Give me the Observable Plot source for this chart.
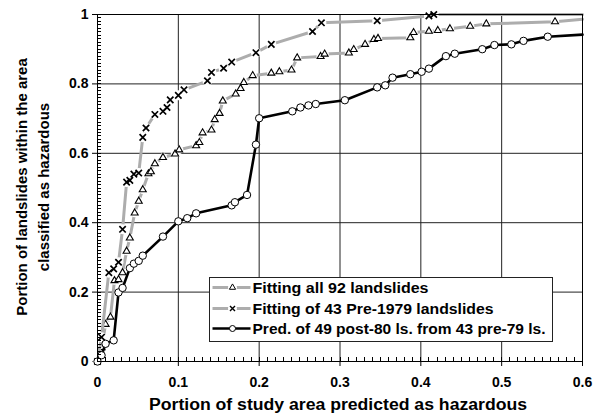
<!DOCTYPE html>
<html><head><meta charset="utf-8">
<script src="https://cdn.jsdelivr.net/npm/d3@7"></script>
<script src="https://cdn.jsdelivr.net/npm/@observablehq/plot@0.6"></script>
<style>
body{margin:0;background:#fff}
#chart{position:relative;width:593px;height:419px}
</style>
</head><body><div id="chart"></div>
<script>
// ---- data ----
const allX = [0,0.005,0.010,0.016,0.021,0.026,0.031,0.036,0.040,0.046,0.051,0.056,0.063,0.066,0.071,0.081,0.096,0.101,0.122,0.126,0.130,0.141,0.145,0.151,0.155,0.171,0.177,0.181,0.192,0.215,0.225,0.240,0.247,0.276,0.281,0.311,0.317,0.331,0.342,0.347,0.387,0.391,0.410,0.421,0.436,0.461,0.481,0.566];
const allY = [0,0.040,0.107,0.128,0.233,0.236,0.256,0.318,0.356,0.428,0.462,0.495,0.541,0.547,0.570,0.588,0.598,0.610,0.622,0.631,0.659,0.667,0.697,0.715,0.751,0.771,0.787,0.804,0.824,0.831,0.835,0.840,0.875,0.879,0.886,0.889,0.899,0.914,0.928,0.931,0.933,0.948,0.952,0.954,0.959,0.966,0.973,0.979];
const allTailY = 0.986;

const preX = [0,0.005,0.014,0.020,0.026,0.031,0.036,0.040,0.045,0.051,0.056,0.060,0.071,0.081,0.086,0.090,0.100,0.107,0.136,0.141,0.156,0.166,0.196,0.215,0.266,0.277,0.346,0.410,0.416];
const preY = [0,0.070,0.256,0.267,0.286,0.381,0.517,0.522,0.540,0.543,0.646,0.673,0.712,0.721,0.732,0.754,0.767,0.783,0.809,0.833,0.845,0.863,0.890,0.914,0.951,0.976,0.982,0.996,1.0];
const preTailY = 1.0;

const predX = [0,0.005,0.010,0.020,0.026,0.031,0.040,0.045,0.051,0.056,0.081,0.100,0.111,0.122,0.166,0.170,0.185,0.196,0.200,0.241,0.251,0.261,0.270,0.306,0.346,0.356,0.365,0.387,0.401,0.410,0.431,0.442,0.476,0.491,0.512,0.527,0.557];
const predY = [0,0.018,0.051,0.061,0.199,0.212,0.269,0.282,0.290,0.305,0.360,0.404,0.413,0.427,0.450,0.459,0.480,0.625,0.701,0.721,0.732,0.738,0.742,0.753,0.790,0.796,0.818,0.828,0.835,0.844,0.880,0.887,0.900,0.912,0.914,0.924,0.936];
const predTailY = 0.942;

const tailX = 0.6;
const xTicks = [0,0.1,0.2,0.3,0.4,0.5,0.6];
const yTicks = [0,0.2,0.4,0.6,0.8,1];
const xTickLabels = ["0","0.1","0.2","0.3","0.4","0.5","0.6"];
const yTickLabels = ["0","0.2","0.4","0.6","0.8","1"];
const xMinor = d3.range(1,60).map(i=>i/100);
const yMinor = d3.range(1,100).map(i=>i/100);
const seriesNames = ["Fitting all 92 landslides","Fitting of 43 Pre-1979 landslides","Pred. of 49 post-80 ls. from 43 pre-79 ls."];
const xTitle = "Portion of study area predicted as hazardous";
const yTitle = ["Portion of landslides within the area","classified as hazardous"];

// ---- build tables ----
const pts = (xs, ys) => xs.map((x,i)=>({x, y: ys[i]}));
const allPts = pts(allX, allY), prePts = pts(preX, preY), predPts = pts(predX, predY);
const allLine = [...allPts, {x: tailX, y: allTailY}];
const preLine = [...prePts, {x: tailX, y: preTailY}];
const predLine = [...predPts, {x: tailX, y: predTailY}];

const GRAY = "#adadad";
const FONT = "'Liberation Sans', Arial, Helvetica, sans-serif";

const plot = Plot.plot({
  width: 593, height: 419,
  marginLeft: 97, marginRight: 11, marginTop: 14, marginBottom: 58,
  style: {fontFamily: FONT, fontSize: "14px", fontWeight: "bold", background: "white", color: "black", overflow: "visible"},
  x: {domain: [0, 0.6]},
  y: {domain: [0, 1]},
  marks: [
    Plot.ruleX(xTicks.slice(1,-1), {stroke: "#222", strokeWidth: 1}),
    Plot.ruleY(yTicks.slice(1,-1), {stroke: "#222", strokeWidth: 1}),
    Plot.axisX({ticks: xTicks, tickSize: 5, tickPadding: 11, tickFormat: (d,i) => xTickLabels[i], label: null, fontSize: 14}),
    Plot.axisY({ticks: yTicks, tickSize: 5, tickPadding: 4, tickFormat: (d,i) => yTickLabels[i], label: null, fontSize: 14}),
    // series 1: all 92
    Plot.line(allLine, {x: "x", y: "y", stroke: GRAY, strokeWidth: 3}),
    Plot.dot(allPts, {x: "x", y: "y", r: 4.2, fill: "white"}),
    Plot.dot(allPts, {x: "x", y: "y", symbol: "triangle", r: 2.6, fill: "white", stroke: "black", strokeWidth: 1.1}),
    // series 2: pre-1979
    Plot.line(preLine, {x: "x", y: "y", stroke: GRAY, strokeWidth: 3}),
    Plot.dot(prePts, {x: "x", y: "y", r: 5, fill: "white"}),
    Plot.dot(prePts, {x: "x", y: "y", symbol: "times", r: 3, stroke: "black", strokeWidth: 1.7}),
    // series 3: prediction
    Plot.line(predLine, {x: "x", y: "y", stroke: "black", strokeWidth: 2.6}),
    Plot.dot(predPts, {x: "x", y: "y", r: 3.7, fill: "white", stroke: "black", strokeWidth: 1}),
    Plot.frame({stroke: "black", strokeWidth: 1})
  ]
});
document.getElementById("chart").appendChild(plot);

const svg = d3.select(plot);
// ---- minor ticks (inward), positioned with the plot's own scales ----
const sx = plot.scale("x"), sy = plot.scale("y");
const y0 = sy.apply(0), x0 = sx.apply(0);
const minor = svg.append("g").attr("stroke", "black").attr("stroke-width", 1);
xMinor.forEach(v => {
  const px = Math.round(sx.apply(v)) + 0.5;
  minor.append("line").attr("x1", px).attr("x2", px).attr("y1", y0).attr("y2", y0 - 4);
});
yMinor.forEach(v => {
  const py = Math.round(sy.apply(v)) + 0.5;
  minor.append("line").attr("x1", x0).attr("x2", x0 + 4).attr("y1", py).attr("y2", py);
});

// ---- titles and legend (layout only) ----
svg.append("text").attr("x", 338).attr("y", 410).attr("text-anchor", "middle")
  .attr("textLength", 378).attr("lengthAdjust", "spacingAndGlyphs")
  .style("font", `bold 16px ${FONT}`).text(xTitle);
yTitle.forEach((t, i) => {
  svg.append("text").attr("transform", `translate(${27 + i*22},187) rotate(-90)`)
    .attr("text-anchor", "middle").style("font", `bold 15px ${FONT}`).text(t);
});

const lg = svg.append("g").attr("transform", "translate(209.5,277.5)");
lg.append("rect").attr("width", 343).attr("height", 64).attr("fill", "white").attr("stroke", "#222").attr("stroke-width", 1);
const rowY = [10, 31, 51];
const rowLen = [176, 241, 293];
const sym = [d3.symbolTriangle, d3.symbolTimes, d3.symbolCircle];
seriesNames.forEach((name, i) => {
  const g = lg.append("g").attr("transform", `translate(0,${rowY[i]})`);
  g.append("line").attr("x1", 3).attr("x2", 41).attr("y1", 0).attr("y2", 0)
    .attr("stroke", i < 2 ? GRAY : "black").attr("stroke-width", i < 2 ? 3 : 2.6);
  if (i < 2) g.append("circle").attr("cx", 23).attr("r", 4.5).attr("fill", "white");
  const size = i === 0 ? Math.PI*2.3*2.3 : i === 1 ? Math.PI*2.4*2.4 : Math.PI*3*3;
  g.append("path").attr("transform", "translate(23,0)").attr("d", d3.symbol(sym[i], size)())
    .attr("fill", i === 1 ? "none" : "white").attr("stroke", "black").attr("stroke-width", i === 1 ? 1.4 : 1);
  g.append("text").attr("x", 43).attr("y", 5).attr("text-anchor", "start")
    .attr("textLength", rowLen[i]).attr("lengthAdjust", "spacingAndGlyphs")
    .style("font", `bold 14px ${FONT}`).text(name);
});
</script>
</body></html>
